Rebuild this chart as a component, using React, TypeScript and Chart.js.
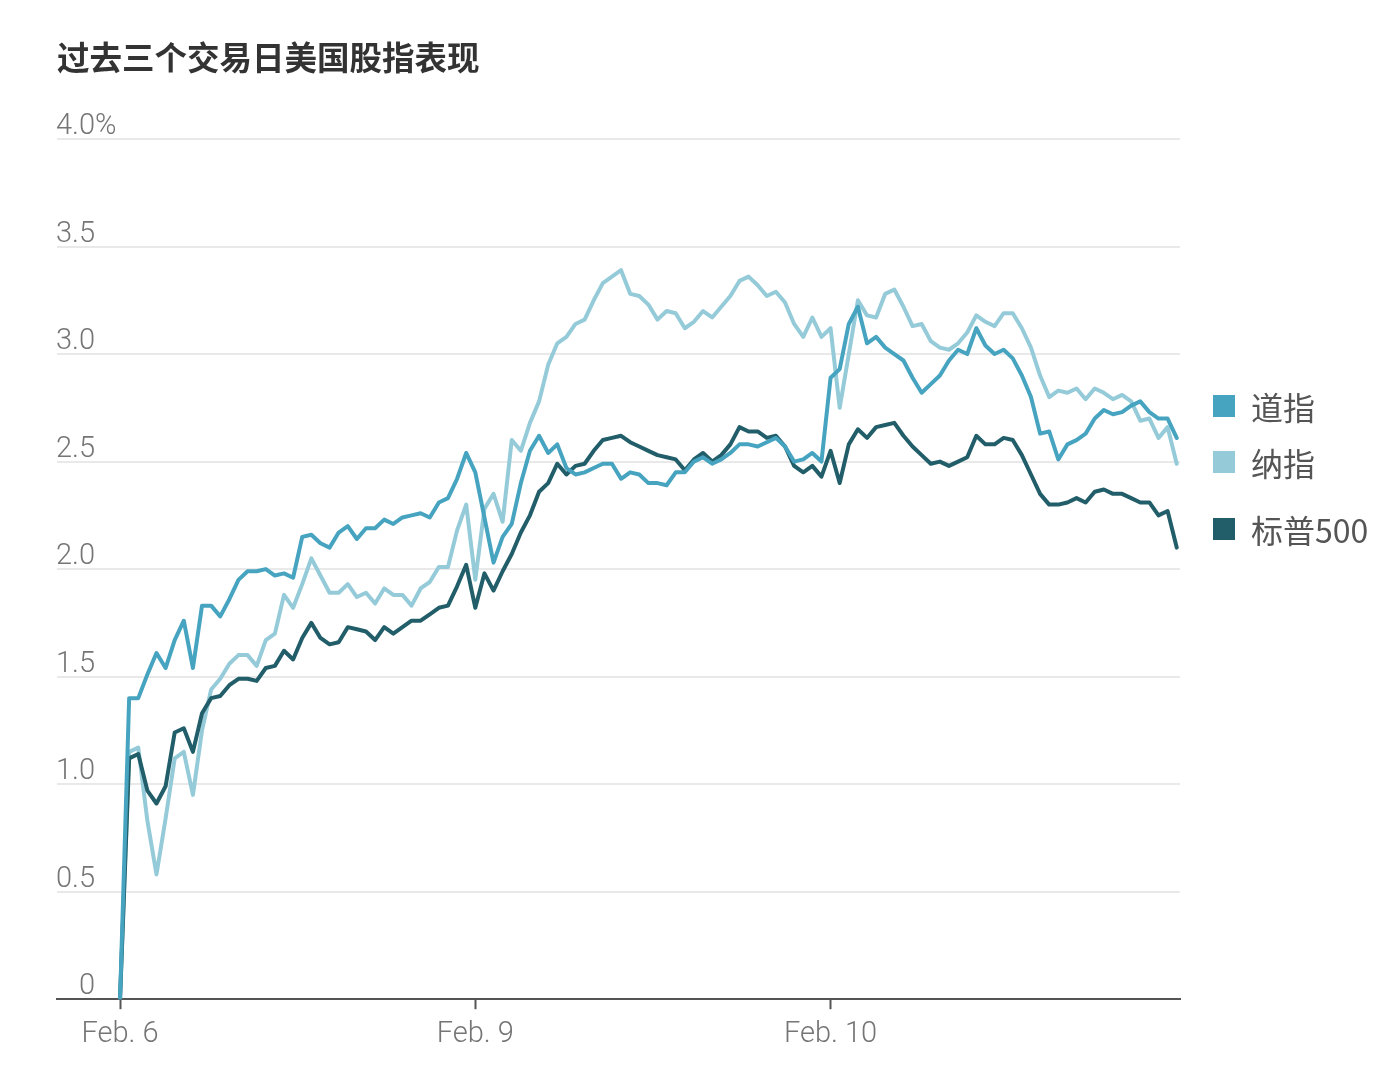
import React, { useEffect, useRef } from "react";
import { Chart, registerables } from "chart.js";

Chart.register(...registerables);

const chartTitle = "过去三个交易日美国股指表现";
const seriesNames = ["道指", "纳指", "标普500"];
const seriesColors = ["#47a4c0", "#95cbd9", "#225e69"];

// 10-minute steps, index 0 = Feb. 6 open
const dowValues = [
  0.0, 1.4, 1.4, 1.51, 1.61, 1.54, 1.67, 1.76, 1.54, 1.83,
  1.83, 1.78, 1.86, 1.95, 1.99, 1.99, 2.0, 1.97, 1.98, 1.96,
  2.15, 2.16, 2.12, 2.1, 2.17, 2.2, 2.14, 2.19, 2.19, 2.23,
  2.21, 2.24, 2.25, 2.26, 2.24, 2.31, 2.33, 2.42, 2.54, 2.45,
  2.24, 2.03, 2.15, 2.21, 2.4, 2.55, 2.62, 2.54, 2.58, 2.47,
  2.44, 2.45, 2.47, 2.49, 2.49, 2.42, 2.45, 2.44, 2.4, 2.4,
  2.39, 2.45, 2.45, 2.5, 2.52, 2.49, 2.51, 2.54, 2.58, 2.58,
  2.57, 2.59, 2.61, 2.57, 2.5, 2.51, 2.54, 2.5, 2.89, 2.93,
  3.14, 3.22, 3.05, 3.08, 3.03, 3.0, 2.97, 2.89, 2.82, 2.86,
  2.9, 2.97, 3.02, 3.0, 3.12, 3.04, 3.0, 3.02, 2.98, 2.9,
  2.8, 2.63, 2.64, 2.51, 2.58, 2.6, 2.63, 2.7, 2.74, 2.72,
  2.73, 2.76, 2.78, 2.73, 2.7, 2.7, 2.61,
];

const nasdaqValues = [
  0.0, 1.15, 1.17, 0.83, 0.58, 0.84, 1.12, 1.15, 0.95, 1.25,
  1.44, 1.49, 1.56, 1.6, 1.6, 1.55, 1.67, 1.7, 1.88, 1.82,
  1.93, 2.05, 1.97, 1.89, 1.89, 1.93, 1.87, 1.89, 1.84, 1.91,
  1.88, 1.88, 1.83, 1.91, 1.94, 2.01, 2.01, 2.18, 2.3, 1.95,
  2.28, 2.35, 2.22, 2.6, 2.55, 2.68, 2.78, 2.95, 3.05, 3.08,
  3.14, 3.16, 3.25, 3.33, 3.36, 3.39, 3.28, 3.27, 3.23, 3.16,
  3.2, 3.19, 3.12, 3.15, 3.2, 3.17, 3.22, 3.27, 3.34, 3.36,
  3.32, 3.27, 3.29, 3.24, 3.14, 3.08, 3.17, 3.08, 3.12, 2.75,
  3.0, 3.25, 3.18, 3.17, 3.28, 3.3, 3.22, 3.13, 3.14, 3.06,
  3.03, 3.02, 3.05, 3.1, 3.18, 3.15, 3.13, 3.19, 3.19, 3.12,
  3.03, 2.9, 2.8, 2.83, 2.82, 2.84, 2.79, 2.84, 2.82, 2.79,
  2.81, 2.78, 2.69, 2.7, 2.61, 2.66, 2.49,
];

const spValues = [
  0.0, 1.12, 1.14, 0.97, 0.91, 0.99, 1.24, 1.26, 1.15, 1.33,
  1.4, 1.41, 1.46, 1.49, 1.49, 1.48, 1.54, 1.55, 1.62, 1.58,
  1.68, 1.75, 1.68, 1.65, 1.66, 1.73, 1.72, 1.71, 1.67, 1.73,
  1.7, 1.73, 1.76, 1.76, 1.79, 1.82, 1.83, 1.92, 2.02, 1.82,
  1.98, 1.9, 1.99, 2.07, 2.17, 2.25, 2.36, 2.4, 2.49, 2.44,
  2.48, 2.49, 2.55, 2.6, 2.61, 2.62, 2.59, 2.57, 2.55, 2.53,
  2.52, 2.51, 2.46, 2.51, 2.54, 2.5, 2.53, 2.58, 2.66, 2.64,
  2.64, 2.61, 2.62, 2.57, 2.48, 2.45, 2.48, 2.43, 2.55, 2.4,
  2.58, 2.65, 2.61, 2.66, 2.67, 2.68, 2.62, 2.57, 2.53, 2.49,
  2.5, 2.48, 2.5, 2.52, 2.62, 2.58, 2.58, 2.61, 2.6, 2.53,
  2.44, 2.35, 2.3, 2.3, 2.31, 2.33, 2.31, 2.36, 2.37, 2.35,
  2.35, 2.33, 2.31, 2.31, 2.25, 2.27, 2.1,
];

const xTickIndices = [0, 39, 78];
const xTickLabels = ["Feb. 6", "Feb. 9", "Feb. 10"];
const yTickValues = [0, 0.5, 1, 1.5, 2, 2.5, 3, 3.5, 4];
const yTickLabels = ["0", "0.5", "1.0", "1.5", "2.0", "2.5", "3.0", "3.5", "4.0%"];

const labelFont = "300 29px Roboto, 'Liberation Sans', sans-serif";

const yLabelPlugin = {
  id: "yLabelPlugin",
  afterDraw(chart: any) {
    const ctx = chart.ctx;
    const yScale = chart.scales.y;
    const right = chart.chartArea.left + 38;
    ctx.save();
    ctx.font = labelFont;
    ctx.fillStyle = "#757575";
    ctx.textBaseline = "alphabetic";
    yTickValues.forEach((v, k) => {
      const py = yScale.getPixelForValue(v) - 5;
      const label = yTickLabels[k];
      const hasPct = label.endsWith("%");
      const num = hasPct ? label.slice(0, -1) : label;
      ctx.textAlign = "right";
      ctx.fillText(num, right, py);
      if (hasPct) {
        ctx.textAlign = "left";
        ctx.fillText("%", right, py);
      }
    });
    ctx.restore();
  },
};

export default function App() {
  const canvasRef = useRef<HTMLCanvasElement | null>(null);

  useEffect(() => {
    if (!canvasRef.current) return;
    const allValues = [dowValues, nasdaqValues, spValues];
    const chart = new Chart(canvasRef.current, {
      type: "line",
      data: {
        datasets: allValues.map((vals, s) => ({
          label: seriesNames[s],
          data: vals.map((v, i) => ({ x: i, y: v })),
          borderColor: seriesColors[s],
          backgroundColor: seriesColors[s],
          borderWidth: 4,
          pointRadius: 0,
          tension: 0,
          borderJoinStyle: "round" as const,
          borderCapStyle: "round" as const,
          order: s === 0 ? 0 : s === 2 ? 1 : 2,
        })),
      },
      options: {
        responsive: false,
        animation: false,
        layout: { padding: { left: 49, right: 204, top: 131, bottom: 2 } },
        plugins: {
          legend: { display: false },
          title: { display: false },
          tooltip: { enabled: false },
        },
        scales: {
          x: {
            type: "linear",
            min: -6.92,
            max: 116.36,
            afterBuildTicks: (axis: any) => {
              axis.ticks = xTickIndices.map((v) => ({ value: v }));
            },
            ticks: {
              autoSkip: false,
              maxRotation: 0,
              padding: 8,
              color: "#757575",
              font: { family: "Roboto, 'Liberation Sans', sans-serif", size: 29, weight: "300" as any },
              callback: (value: any) => {
                const k = xTickIndices.indexOf(Number(value));
                return k >= 0 ? xTickLabels[k] : "";
              },
            },
            grid: {
              drawOnChartArea: false,
              drawTicks: true,
              tickLength: 10,
              tickWidth: 2,
              tickColor: "#555555",
            },
            border: { display: true, color: "#555555", width: 2 },
          },
          y: {
            min: 0,
            max: 4,
            afterBuildTicks: (axis: any) => {
              axis.ticks = yTickValues.map((v) => ({ value: v }));
            },
            ticks: { display: false },
            grid: {
              drawTicks: false,
              lineWidth: 2,
              color: (c: any) => (c.tick && c.tick.value === 0 ? "rgba(0,0,0,0)" : "#e9e9e9"),
            },
            border: { display: false },
          },
        },
      },
      plugins: [yLabelPlugin],
    });
    return () => chart.destroy();
  }, []);

  return (
    <div style={{ position: "relative", width: 1376, height: 1054 }}>
      <canvas ref={canvasRef} width={1376} height={1054} style={{ position: "absolute", left: 0, top: 0 }} />
      <div
        style={{
          position: "absolute",
          left: 49,
          top: 32,
          fontFamily: "'Noto Sans CJK SC', sans-serif",
          fontWeight: 700,
          fontSize: 32.5,
          lineHeight: "32px",
          color: "#333333",
          whiteSpace: "nowrap",
        }}
      >
        {chartTitle}
      </div>
      {seriesNames.map((name, s) => {
        const centers = [398, 454, 521];
        return (
          <div
            key={name}
            style={{
              position: "absolute",
              left: 1205,
              top: centers[s] - 20,
              height: 40,
              display: "flex",
              alignItems: "center",
              fontFamily: "'Noto Sans CJK SC', sans-serif",
              fontSize: 32,
              color: "#555555",
              whiteSpace: "nowrap",
            }}
          >
            <span style={{ display: "inline-block", width: 22, height: 22, background: seriesColors[s], marginRight: 16 }} />
            <span>{name}</span>
          </div>
        );
      })}
    </div>
  );
}
